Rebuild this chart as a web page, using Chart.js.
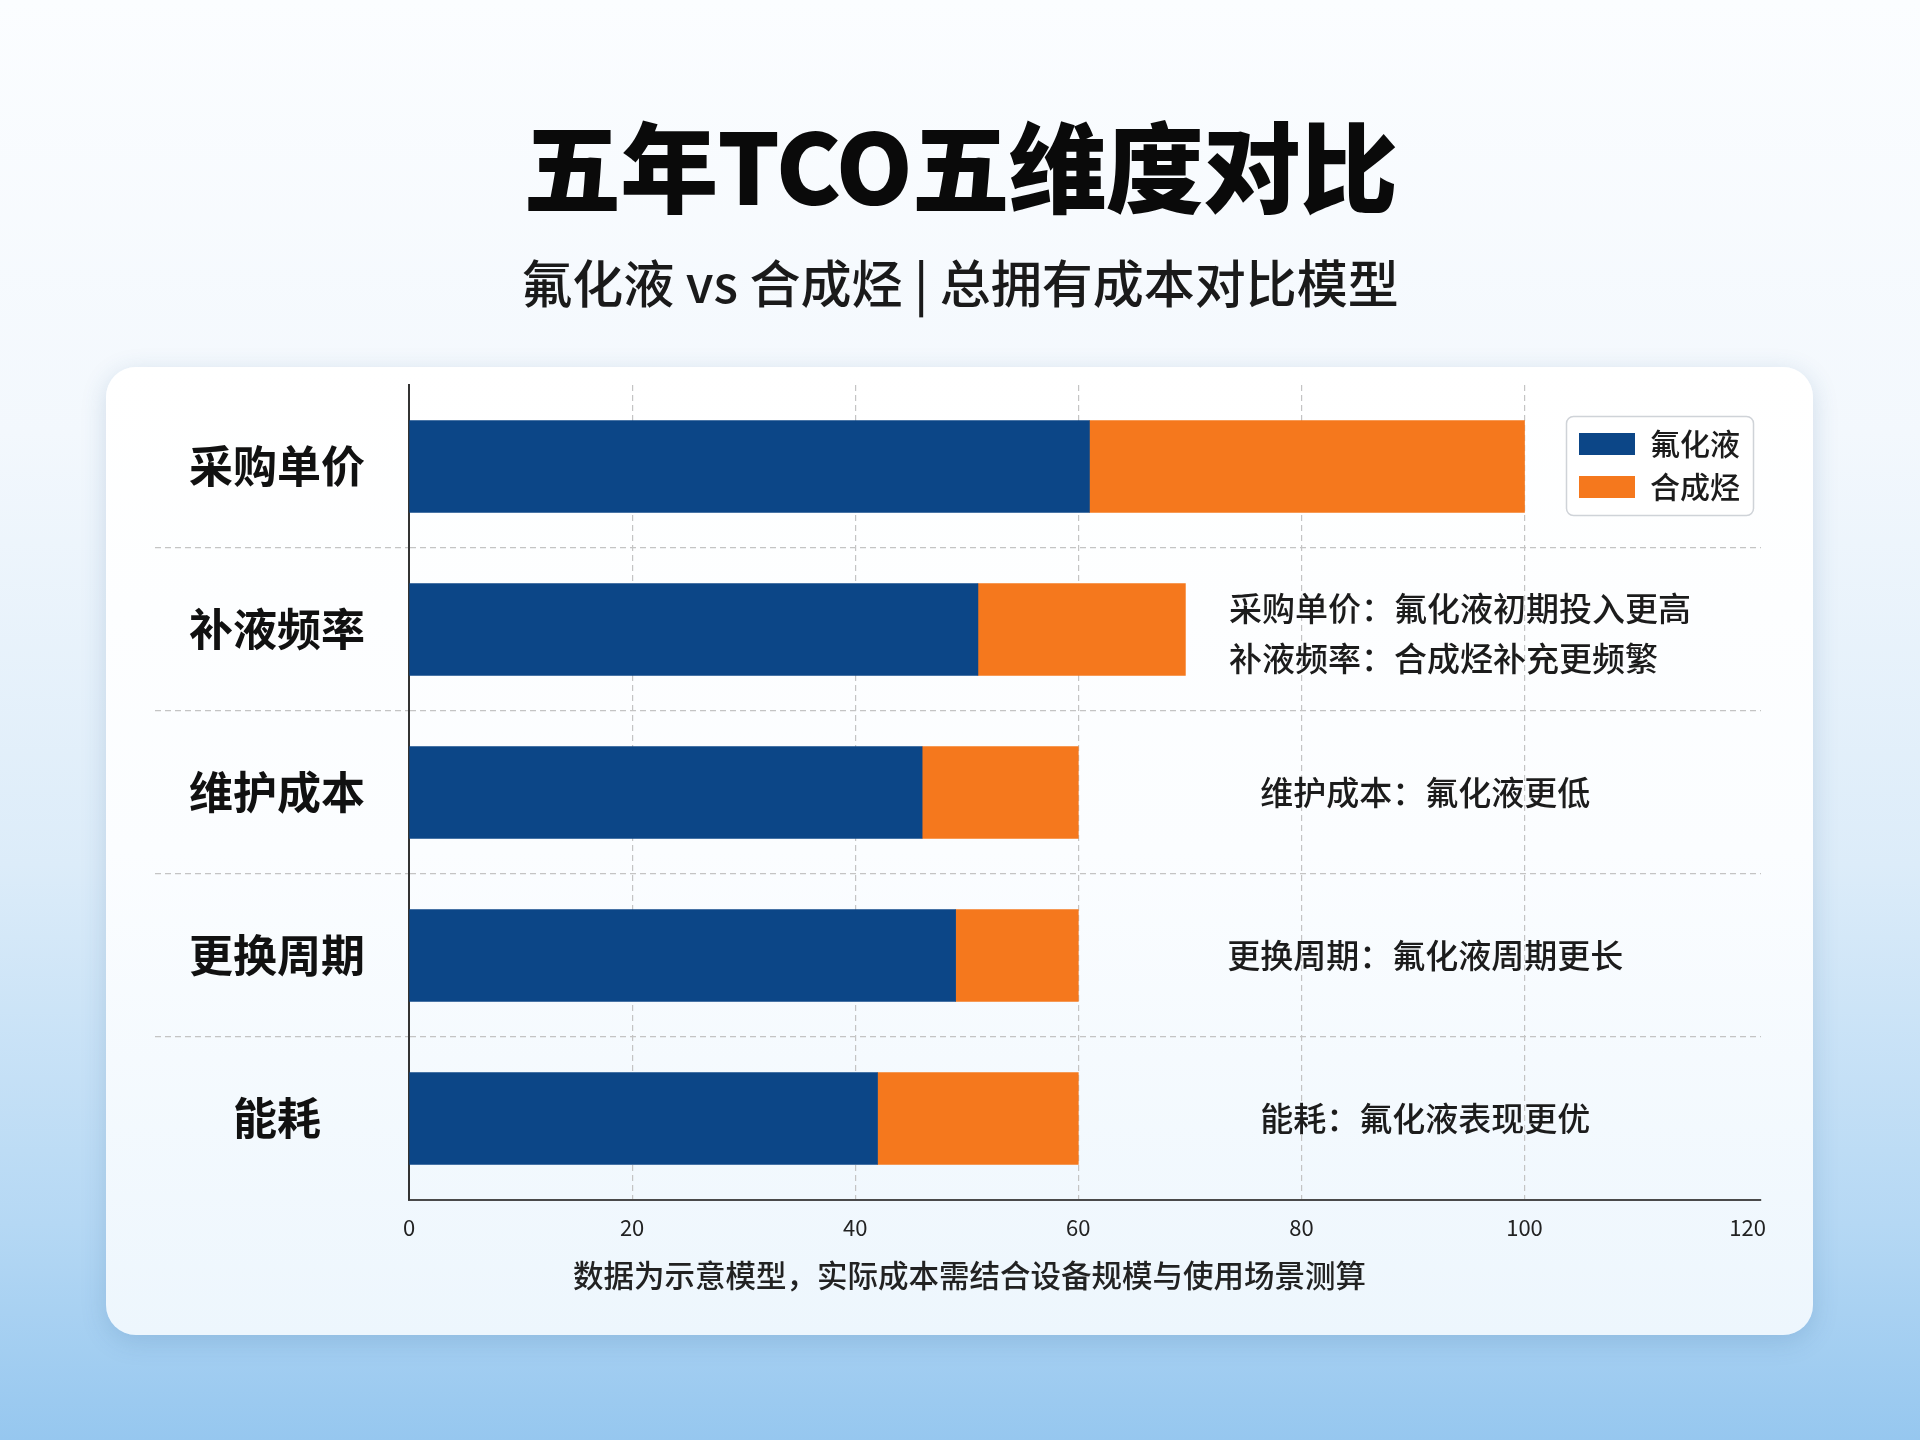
<!DOCTYPE html>
<html>
<head>
<meta charset="utf-8">
<script src="https://cdn.jsdelivr.net/npm/chart.js@4.4.1/dist/chart.umd.min.js"></script>
<style>
  html, body { margin: 0; padding: 0; }
  body {
    width: 1920px; height: 1440px; position: relative; overflow: hidden;
    background: linear-gradient(180deg, #fbfdff 0%, #f3f8fd 30%, #dcecf9 60%, #b5d8f4 85%, #96c7ef 100%);
    font-family: "Noto Sans CJK SC", "Noto Sans", sans-serif;
  }
  .title {
    position: absolute; left: 0; width: 1920px; top: 110px; text-align: center;
    font-size: 98px; font-weight: 900; line-height: 104px; color: #0a0a0a; letter-spacing: -1px;
  }
  .subtitle {
    position: absolute; left: 0; width: 1920px; top: 253px; text-align: center;
    font-size: 51px; font-weight: 500; line-height: 56px; color: #1a1a1a;
  }
  .card {
    position: absolute; left: 106px; top: 367px; width: 1707px; height: 968px;
    border-radius: 30px;
    background: linear-gradient(180deg, #ffffff 0%, #fbfdff 50%, #edf6fd 100%);
    box-shadow: 0 6px 26px rgba(40, 90, 140, 0.18);
  }
  .note {
    position: absolute; left: 116px; width: 1707px; top: 1255px; text-align: center;
    font-size: 30.5px; font-weight: 500; line-height: 38px; color: #222;
  }
  canvas { position: absolute; left: 0; top: 0; }
</style>
</head>
<body>
<div class="title">五年TCO五维度对比</div>
<div class="subtitle">氟化液 vs 合成烃 | 总拥有成本对比模型</div>
<div class="card"></div>
<canvas id="c" width="1920" height="1440"></canvas>
<div class="note">数据为示意模型，实际成本需结合设备规模与使用场景测算</div>
<script>
// ---- data ----
const categories = ['采购单价', '补液频率', '维护成本', '更换周期', '能耗'];
const seriesNames = ['氟化液', '合成烃'];
const fluorinated = [61, 51, 46, 49, 42];
const hydrocarbon = [39, 18.6, 14, 11, 18];
const xTicks = [0, 20, 40, 60, 80, 100, 120];
const notes = [
  null,
  ['采购单价：氟化液初期投入更高', '补液频率：合成烃补充更频繁'],
  ['维护成本：氟化液更低'],
  ['更换周期：氟化液周期更长'],
  ['能耗：氟化液表现更优']
];

const BLUE = '#0c4687';
const ORANGE = '#f5781d';
const GRID = '#c4c4c4';
const CLEAR = 'rgba(0,0,0,0)';

const legendBoxPlugin = {
  id: 'legendBox',
  afterLayout(chart) {
    const lg = chart.legend;
    if (!lg) return;
    const w = lg.width + 3;
    lg.left = 1753 - w;
    lg.top = 416;
    lg.right = lg.left + lg.width;
    lg.bottom = lg.top + lg.height;
  },
  beforeDraw(chart) {
    const lg = chart.legend;
    if (!lg) return;
    const ctx = chart.ctx;
    const w = lg.width + 3, h = 2 * 30 + 3 * 13;
    ctx.save();
    ctx.beginPath();
    ctx.roundRect(lg.left + 0.5, lg.top + 0.5, w, h, 7);
    ctx.fillStyle = '#ffffff';
    ctx.fill();
    ctx.strokeStyle = '#cfd3d8';
    ctx.lineWidth = 1.5;
    ctx.stroke();
    ctx.restore();
  }
};

const notesPlugin = {
  id: 'notes',
  afterDatasetsDraw(chart) {
    const ctx = chart.ctx;
    const xs = chart.scales.x, ys = chart.scales.y;
    ctx.save();
    ctx.font = '500 33px "Noto Sans CJK SC", sans-serif';
    ctx.fillStyle = '#1c1c1c';
    ctx.textBaseline = 'middle';
    notes.forEach((lines, i) => {
      if (!lines) return;
      const yc = ys.getPixelForValue(i);
      if (lines.length > 1) {
        ctx.textAlign = 'left';
        const x0 = xs.getPixelForValue(73.5);
        lines.forEach((t, k) => ctx.fillText(t, x0, yc + 4 + (k - (lines.length - 1) / 2) * 50));
      } else {
        ctx.textAlign = 'center';
        ctx.fillText(lines[0], xs.getPixelForValue(91.1), yc);
      }
    });
    ctx.restore();
  }
};

new Chart(document.getElementById('c'), {
  type: 'bar',
  data: {
    labels: categories,
    datasets: [
      { label: seriesNames[0], data: fluorinated, backgroundColor: BLUE, borderWidth: 0, barThickness: 92 },
      { label: seriesNames[1], data: hydrocarbon, backgroundColor: ORANGE, borderWidth: 0, barThickness: 92 }
    ]
  },
  options: {
    indexAxis: 'y',
    responsive: false,
    animation: false,
    devicePixelRatio: 1,
    layout: { padding: { left: 150, right: 159, top: 385, bottom: 180 } },
    plugins: {
      title: { display: false },
      tooltip: { enabled: false },
      legend: {
        position: 'chartArea',
        align: 'start',
        labels: {
          boxWidth: 56, boxHeight: 22, padding: 13, color: '#1c1c1c',
          font: { family: '"Noto Sans CJK SC", sans-serif', size: 30, weight: '500' }
        }
      }
    },
    scales: {
      x: {
        stacked: true, min: 0, max: 121.2,
        afterBuildTicks(scale) { scale.ticks = xTicks.map(v => ({ value: v })); },
        afterFit(scale) { scale.height = 60; },
        border: { display: true, color: '#4a4a4a', width: 2, dash: [6, 4] },
        grid: {
          drawTicks: false,
          color: (c) => (c.tick && (c.tick.value === 0 || c.tick.value === 120)) ? CLEAR : GRID,
          lineWidth: 1.2
        },
        ticks: {
          padding: 14, color: '#222',
          font: { family: '"Noto Sans CJK SC", sans-serif', size: 22 }
        }
      },
      y: {
        stacked: true,
        afterFit(scale) { scale.width = 259; },
        border: { display: true, color: '#333', width: 2, dash: [6, 4] },
        grid: {
          offset: true,
          drawTicks: true,
          tickLength: 254,
          color: (c) => (c.type !== 'tick' || c.index === 0) ? CLEAR : GRID,
          tickColor: (c) => (c.type !== 'tick' || c.index === 0) ? CLEAR : GRID,
          tickBorderDash: [6, 4],
          lineWidth: 1.2,
          tickWidth: 1.2
        },
        ticks: {
          crossAlign: 'center',
          padding: -210,
          color: '#111',
          font: { family: '"Noto Sans CJK SC", sans-serif', size: 44, weight: 'bold' }
        }
      }
    }
  },
  plugins: [legendBoxPlugin, notesPlugin]
});
</script>
</body>
</html>
